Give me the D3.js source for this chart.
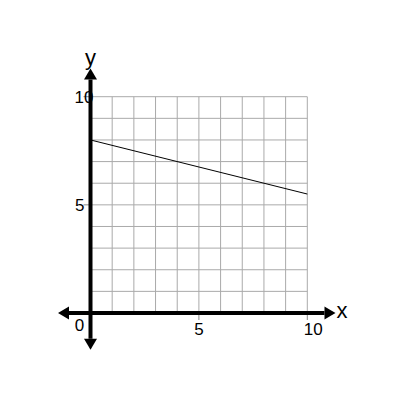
<!DOCTYPE html>
<html lang="en">
	<head>
		<meta charset="utf-8">
		<title>Line on grid</title>
		<script src="https://cdn.jsdelivr.net/npm/d3@7"></script>
		<style>
			body { margin: 0; background: #fff; }
			text { font-family: "Liberation Sans", Arial, sans-serif; fill: #000; }
		</style>
	</head>
	<body>
		<script>

			//Width and height
			var w = 400;
			var h = 400;

			//grid goes 0..10 both ways
			var gridX = d3.range(0, 11);
			var gridY = d3.range(0, 11);
			var xTicks = [5, 10];
			var yTicks = [5, 10];
			var xTickLabels = ["5", "10"];
			var yTickLabels = ["5", "10"];

			//the line, two points
			var lineX = [0, 10];
			var lineY = [8, 5.5];

			var xScale = d3.scaleLinear().domain([0, 10]).range([90.5, 307.3]);
			var yScale = d3.scaleLinear().domain([0, 10]).range([313, 96.7]);

			var svg = d3.select("body")
						.append("svg")
						.attr("width", w)
						.attr("height", h);

			//grid lines
			svg.selectAll("line.gx")
			   .data(gridX)
			   .enter()
			   .append("line")
			   .attr("class", "gx")
			   .attr("x1", function(d) { return xScale(d); })
			   .attr("x2", function(d) { return xScale(d); })
			   .attr("y1", yScale(0))
			   .attr("y2", yScale(10))
			   .attr("stroke", "#aaa")
			   .attr("stroke-width", 1);

			svg.selectAll("line.gy")
			   .data(gridY)
			   .enter()
			   .append("line")
			   .attr("class", "gy")
			   .attr("y1", function(d) { return yScale(d); })
			   .attr("y2", function(d) { return yScale(d); })
			   .attr("x1", xScale(0))
			   .attr("x2", xScale(10))
			   .attr("stroke", "#aaa")
			   .attr("stroke-width", 1);

			//small ticks past the axes
			svg.selectAll("line.tx")
			   .data(xTicks)
			   .enter()
			   .append("line")
			   .attr("x1", function(d) { return xScale(d); })
			   .attr("x2", function(d) { return xScale(d); })
			   .attr("y1", yScale(0))
			   .attr("y2", yScale(0) + 7)
			   .attr("stroke", "#888");

			svg.selectAll("line.ty")
			   .data(yTicks)
			   .enter()
			   .append("line")
			   .attr("y1", function(d) { return yScale(d); })
			   .attr("y2", function(d) { return yScale(d); })
			   .attr("x1", xScale(0) - 7)
			   .attr("x2", xScale(0))
			   .attr("stroke", "#888");

			//the data line
			var line = d3.line()
						 .x(function(d, i) { return xScale(lineX[i]); })
						 .y(function(d, i) { return yScale(lineY[i]); });

			svg.append("path")
			   .datum(lineX)
			   .attr("d", line)
			   .attr("fill", "none")
			   .attr("stroke", "#000")
			   .attr("stroke-width", 1);

			//axes, with arrow heads at both ends
			var x0 = xScale(0), y0 = yScale(0);
			var aLen = 11, aHalf = 6.5;

			svg.append("line")
			   .attr("x1", xScale(-1.5) + aLen).attr("x2", xScale(11.3) - aLen)
			   .attr("y1", y0).attr("y2", y0)
			   .attr("stroke", "#000").attr("stroke-width", 4);

			svg.append("line")
			   .attr("y1", yScale(-1.7) - aLen).attr("y2", yScale(11.3) + aLen)
			   .attr("x1", x0).attr("x2", x0)
			   .attr("stroke", "#000").attr("stroke-width", 4);

			var heads = [
				[xScale(11.3), y0, 1, 0],
				[xScale(-1.5), y0, -1, 0],
				[x0, yScale(11.3), 0, -1],
				[x0, yScale(-1.7), 0, 1]
			];
			svg.selectAll("path.head")
			   .data(heads)
			   .enter()
			   .append("path")
			   .attr("d", function(d) {
			   	var tx = d[0], ty = d[1], dx = d[2], dy = d[3];
			   	var bx = tx - dx * aLen, by = ty - dy * aLen;
			   	//perpendicular
			   	var px = -dy * aHalf, py = dx * aHalf;
			   	return "M" + tx + "," + ty + "L" + (bx + px) + "," + (by + py) + "L" + (bx - px) + "," + (by - py) + "Z";
			   })
			   .attr("fill", "#000");

			//tick labels
			svg.selectAll("text.xl")
			   .data(xTicks)
			   .enter()
			   .append("text")
			   .text(function(d, i) { return xTickLabels[i]; })
			   .attr("text-anchor", "middle")
			   .attr("font-size", "17px")
			   .attr("x", function(d) { return xScale(d) + (d == 10 ? 6 : 0); })
			   .attr("y", y0 + 22);

			svg.selectAll("text.yl")
			   .data(yTicks)
			   .enter()
			   .append("text")
			   .text(function(d, i) { return yTickLabels[i]; })
			   .attr("text-anchor", "end")
			   .attr("font-size", "17px")
			   .attr("x", function(d) { return d == 10 ? x0 + 3 : x0 - 6; })
			   .attr("y", function(d) { return yScale(d) + 6; });

			svg.append("text")
			   .text("0")
			   .attr("text-anchor", "middle")
			   .attr("font-size", "17px")
			   .attr("x", x0 - 11)
			   .attr("y", y0 + 18);

			//axis names
			svg.append("text")
			   .text("x")
			   .attr("font-size", "22px")
			   .attr("x", xScale(11.3) + 1)
			   .attr("y", y0 + 5);

			svg.append("text")
			   .text("y")
			   .attr("text-anchor", "middle")
			   .attr("font-size", "22px")
			   .attr("x", x0)
			   .attr("y", yScale(11.3) - 4);

		</script>
	</body>
</html>
